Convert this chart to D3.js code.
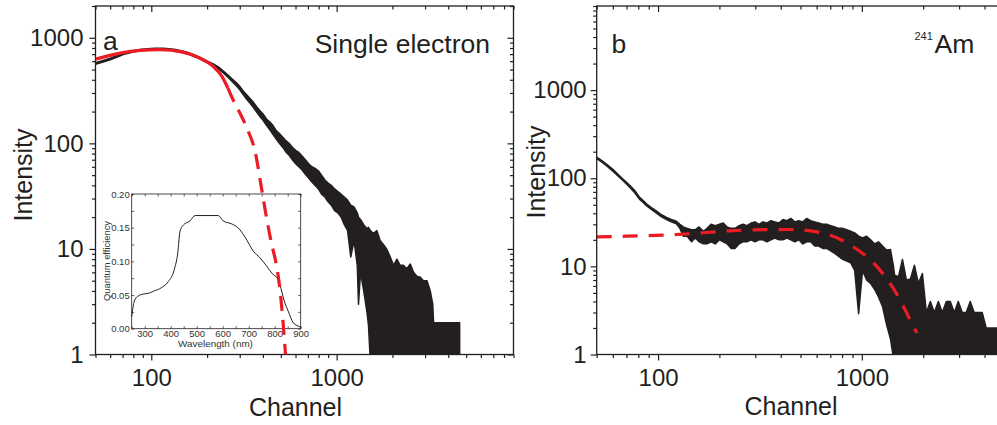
<!DOCTYPE html>
<html><head><meta charset="utf-8">
<script src="https://cdn.jsdelivr.net/npm/d3@7"></script>
<style>
body{margin:0;background:#fff;}
svg{display:block;font-family:"Liberation Sans",Arial,Helvetica,sans-serif;}
</style></head><body>
<svg id="chart" width="997" height="425"></svg>
<script>
// ---------- Panel a: single electron spectrum (channel, lower / upper edge of the noisy trace) ----------
const singleChan = [50,55,60,65,70,75,80,87,95,105,115,125,135,145,161,180,199,215,230,244,
  260,277,290,301,314,327,341,355,370,385, 401,418,435,453,472,491,511,532,554,577,
  601,625,651,678,706,735,765,797,829,864, 899,936,975,1015,1057,1100,1145,1192,1241,1292,
  1312,1345,1400,1458,1485,1517,1580,1649,1717,1787, 1861,1946,2030,2115,2200,2290,2390,2497,2600,2710,
  2826,2940,3073,3200,3300,3335,3500,3700,3900,4100, 4350,4610];
const singleLo = [562,590,620,655,690,712,732,755,765,772,772,765,752,730,695,640,582,548,508,466,
  420,375,345,320,288,262,240,220,198,180, 165,148,135,122,110,100,92,83,77,70,
  64,60,56,51,47,43,40,37,33,31, 28,26,23,22,20,17,15,8.4,12,7,
  3,6,4,2.5,1.9,0,0,0,0,0, 0,0,0,0,0,0,0,0,0,0, 0,0,0,0,0,0,0,0,0,0, 0,0];
const singleHi = [580,610,640,675,710,732,752,776,788,795,795,788,774,752,716,662,604,568,530,486,
  442,398,370,345,312,288,266,246,222,205, 190,170,160,148,132,124,115,106,100,92,
  86,82,76,70,64,60,58,55,50,45, 42,40,37,35,33,31,29,26,25,22,
  20,19,17,15.5,16,15,14,14.9,12,11, 10,8.4,7,8,7,7,6.5,7.2,6,5.5,
  5.4,5,5,4,3,2,2,2,2,2, 2,2];
// red fit for panel a (solid up to fitSolidEndA, dashed after)
const fitChanA = [50,68,87,111,148,183,215,240,259,277,301,332,363,391,419,444,477,498,514,530];
const fitValA  = [628,715,759,773,732,642,539,433,334,256,193,133,84,40,19.5,11.5,6.5,3.7,2.0,1.0];
const fitSolidEndA = 259;

// ---------- Inset: quantum efficiency ----------
const qeWave = [250,260,273,295,314,333,365,391,414,427,436,449,474,494,583,602,635,660,686,718,744,769,795,808,820,837,852,872,885,900];
const qeVal  = [0.018,0.041,0.048,0.0515,0.0525,0.0555,0.061,0.070,0.088,0.112,0.145,0.154,0.160,0.168,0.168,0.160,0.1555,0.1495,0.136,0.115,0.105,0.093,0.080,0.076,0.065,0.041,0.026,0.0085,0.005,0.002];
const qeXTicks = [300,400,500,600,700,800,900];
const qeYTicks = [0,0.05,0.10,0.15,0.20];

// ---------- Panel b: 241Am spectrum ----------
const amChan = [50,53,56,60,63,66,70,73,77,81,85,88,92,98,104,110,116,123,128,133,
  139,146,152,159,167,174,182,191,200,209, 218,228,239,250,261,273,286,299,313,327,
  342,358,374,392,410,429,448,469,490,513, 537,561,587,614,643,672,703,736,770,805,
  842,881,922,964,1008,1055,1103,1154,1207,1263, 1321,1382,1430,1446,1512,1582,1655,1731,1811,1894,
  1982,2073,2168,2268,2373,2482,2597,2716,2841,2972, 3109,3253,3403,3559,3723,3895,4075,4262,4459,4664,
  4879,5000];
const amLo = [167,152,138,120,108,98,86,78,68,58,52.5,48.5,45,40.5,36.5,34,32,30.5,27,22,
  22,19,21,19,18,18,19,18,20,19, 18,16,16,18,19,19,20,19,20,20,
  19,20,21,20,20,21,20,19,20,18, 19,19,17,17,16,16,15,14,13,12,
  11.5,11,9,2.9,9,7,6.4,5.5,4.5,3.5, 2.2,1.5,0,0,0,0,0,0,0,0,
  0,0,0,0,0,0,0,0,0,0, 0,0,0,0,0,0,0,0,0,0, 0,0];
const amHi = [174,158,144,126,113,102,90,82,72,61,55,51,47,42.5,38.5,36,34,32.5,30,28,
  27,26,26,28,25,27,30,29,30,31, 28,27,27,29,30,29,31,32,30,32,
  31,33,32,31,34,33,35,32,33,32, 35,33,32,31,30,30,29,28,27,27,
  26,25,24,22,21,22,20,18,19,17, 15.3,15.5,10,8,7.6,12,7,7.2,10.3,6.4,
  8.3,3,4,3,4,3,4,4,3,4, 3,3,4,3,3,3,2,2,2,2, 2,2];
const fitChanB = [50,70,106,150,224,300,443,500,602,700,784,910,1060,1227,1375,1543,1729,1860];
const fitValB  = [21.6,22,22.6,23.6,25.3,26,26.2,26,24.6,22.5,20.2,16.6,12.8,9.06,6.4,4.13,2.45,1.76];

// tick labels
const xMajorTicks = [100, 1000];
const yMajorA = [1, 10, 100, 1000];
const yMajorB = [1, 10, 100, 1000];

// ---------- drawing ----------
const INK = "#231f20", RED = "#ed1c24";
const FONT = '"Liberation Sans", Arial, Helvetica, sans-serif';
const svg = d3.select("#chart");

function minors(lo, hi) {
  const out = [];
  for (let k = Math.floor(Math.log10(lo)); k <= Math.ceil(Math.log10(hi)); k++) {
    for (let d = 2; d <= 9; d++) { const v = d * Math.pow(10, k); if (v >= lo - 1e-9 && v <= hi + 1e-9) out.push(v); }
  }
  return out;
}
function styleAxis(g, fs) {
  g.select(".domain").remove();
  g.selectAll("line").attr("stroke", INK).attr("stroke-width", 1.2);
  g.selectAll("text").attr("fill", INK).attr("font-size", fs).attr("font-family", FONT);
  g.attr("font-family", FONT);
}

function panel(id, x, y, yMajor, chan, lo, hi, fitC, fitV, solidEnd, leftPad) {
  const [x0, x1] = x.range(), [y0, y1] = y.range();
  const g = svg.append("g");
  svg.append("clipPath").attr("id", "clip" + id).append("rect")
    .attr("x", x0).attr("y", y1).attr("width", x1 - x0).attr("height", y0 - y1);
  const yv = v => v > 0 ? y(v) : y0 + 4;
  const rows = chan.map((c, i) => [c, lo[i], hi[i]]);
  const plot = g.append("g").attr("clip-path", `url(#clip${id})`);
  plot.append("path").datum(rows)
    .attr("d", d3.area().x(d => x(d[0])).y0(d => yv(d[1])).y1(d => yv(d[2])))
    .attr("fill", INK).attr("stroke", INK).attr("stroke-width", 1.5).attr("stroke-linejoin", "round");
  const fit = fitC.map((c, i) => [c, fitV[i]]);
  const line = d3.line().x(d => x(d[0])).y(d => y(d[1])).curve(d3.curveMonotoneX);
  return { g, plot, fit, line, x, y, x0, x1, y0, y1, yMajor, leftPad, solidEnd };
}

function axes(p) {
  const { g, x, y, x0, x1, y0, y1, yMajor, leftPad } = p;
  const xd = x.domain(), yd = y.domain();
  const xMin = minors(xd[0], xd[1]), yMin = minors(yd[0], yd[1]);
  g.append("g").attr("transform", `translate(0,${y0})`)
    .call(d3.axisBottom(x).tickValues(xMajorTicks).tickSize(6).tickSizeOuter(0).tickPadding(8).tickFormat(d3.format("d")))
    .call(s => styleAxis(s, 24));
  g.append("g").attr("transform", `translate(0,${y0})`)
    .call(d3.axisBottom(x).tickValues(xMin).tickSize(3.5).tickSizeOuter(0).tickFormat(""))
    .call(s => styleAxis(s, 24));
  g.append("g").attr("transform", `translate(0,${y1})`)
    .call(d3.axisTop(x).tickValues(xMajorTicks).tickSize(-6).tickSizeOuter(0).tickFormat(""))
    .call(s => styleAxis(s, 24));
  g.append("g").attr("transform", `translate(0,${y1})`)
    .call(d3.axisTop(x).tickValues(xMin).tickSize(-3.5).tickSizeOuter(0).tickFormat(""))
    .call(s => styleAxis(s, 24));
  g.append("g").attr("transform", `translate(${x0},0)`)
    .call(d3.axisLeft(y).tickValues(yMajor).tickSize(6).tickSizeOuter(0).tickPadding(leftPad).tickFormat(d3.format("d")))
    .call(s => styleAxis(s, 24));
  g.append("g").attr("transform", `translate(${x0},0)`)
    .call(d3.axisLeft(y).tickValues(yMin).tickSize(3.5).tickSizeOuter(0).tickFormat(""))
    .call(s => styleAxis(s, 24));
  g.append("g").attr("transform", `translate(${x1},0)`)
    .call(d3.axisRight(y).tickValues(yMajor).tickSize(-6).tickSizeOuter(0).tickFormat(""))
    .call(s => styleAxis(s, 24));
  g.append("g").attr("transform", `translate(${x1},0)`)
    .call(d3.axisRight(y).tickValues(yMin).tickSize(-3.5).tickSizeOuter(0).tickFormat(""))
    .call(s => styleAxis(s, 24));
  g.append("rect").attr("x", x0).attr("y", y1).attr("width", x1 - x0).attr("height", y0 - y1)
    .attr("fill", "none").attr("stroke", INK).attr("stroke-width", 1.3);
}

// Panel a
const xa = d3.scaleLog().domain([50, 9000]).range([95.5, 513.5]);
const ya = d3.scaleLog().domain([1, 2000]).range([354.5, 6]);
const pa = panel("a", xa, ya, yMajorA, singleChan, singleLo, singleHi, fitChanA, fitValA, fitSolidEndA, 6);

// inset
const xi = d3.scaleLinear().domain([250, 900]).range([131.7, 300.7]);
const yi = d3.scaleLinear().domain([0, 0.2]).range([328.7, 194]);
const ins = svg.append("g");
ins.append("rect").attr("x", 131.7).attr("y", 194).attr("width", 169).attr("height", 134.7)
  .attr("fill", "#fff").attr("stroke", INK).attr("stroke-width", 0.8);
ins.append("path").datum(qeWave.map((w, i) => [w, qeVal[i]]))
  .attr("d", d3.line().x(d => xi(d[0])).y(d => yi(d[1])).curve(d3.curveMonotoneX))
  .attr("fill", "none").attr("stroke", INK).attr("stroke-width", 1);
const xiMinor = d3.range(250, 901, 50), yiMinor = d3.range(0, 0.2001, 0.025);
function styleInset(s) {
  s.select(".domain").remove();
  s.selectAll("line").attr("stroke", INK).attr("stroke-width", 0.7);
  s.selectAll("text").attr("fill", "#333").attr("font-size", 9.5).attr("font-family", FONT);
}
ins.append("g").attr("transform", "translate(0,328.7)")
  .call(d3.axisBottom(xi).tickValues(qeXTicks).tickSize(0).tickPadding(2).tickFormat(d3.format("d"))).call(styleInset);
ins.append("g").attr("transform", "translate(0,328.7)")
  .call(d3.axisBottom(xi).tickValues(xiMinor).tickSize(-2.5).tickSizeOuter(0).tickFormat("")).call(styleInset);
ins.append("g").attr("transform", "translate(0,194)")
  .call(d3.axisTop(xi).tickValues(xiMinor).tickSize(-2.5).tickSizeOuter(0).tickFormat("")).call(styleInset);
ins.append("g").attr("transform", "translate(131.7,0)")
  .call(d3.axisLeft(yi).tickValues(qeYTicks).tickSize(0).tickPadding(2).tickFormat(d3.format(".2f"))).call(styleInset);
ins.append("g").attr("transform", "translate(131.7,0)")
  .call(d3.axisLeft(yi).tickValues(yiMinor).tickSize(-2.5).tickSizeOuter(0).tickFormat("")).call(styleInset);
ins.append("g").attr("transform", "translate(300.7,0)")
  .call(d3.axisRight(yi).tickValues(yiMinor).tickSize(-2.5).tickSizeOuter(0).tickFormat("")).call(styleInset);
ins.append("text").attr("x", 215.5).attr("y", 346.5).attr("text-anchor", "middle")
  .attr("font-size", 9.9).attr("fill", "#333").text("Wavelength (nm)");
ins.append("text").attr("transform", "translate(109.5,261) rotate(-90)").attr("text-anchor", "middle")
  .attr("font-size", 9.4).attr("fill", "#333").text("Quantum efficiency");

// red fit a (on top of inset)
const fitA = pa.fit;
const redA = svg.append("g").attr("clip-path", "url(#clipa)");
redA.append("path").datum(fitA.filter(d => d[0] <= fitSolidEndA)).attr("d", pa.line)
  .attr("fill", "none").attr("stroke", RED).attr("stroke-width", 3.2);
redA.append("path").datum(fitA.filter(d => d[0] >= fitSolidEndA)).attr("d", pa.line)
  .attr("fill", "none").attr("stroke", RED).attr("stroke-width", 3.2).attr("stroke-dasharray", "15,9");
axes(pa);

// Panel b
const xb = d3.scaleLog().domain([50, 5000]).range([596.7, 1004.3]);
const yb = d3.scaleLog().domain([1, 9000]).range([354.5, 6]);
const pb = panel("b", xb, yb, yMajorB, amChan, amLo, amHi, fitChanB, fitValB, null, 4);
pb.plot.append("path").datum(pb.fit).attr("d", pb.line)
  .attr("fill", "none").attr("stroke", RED).attr("stroke-width", 3.2).attr("stroke-dasharray", "15,11");
axes(pb);

// titles & annotations
function txt(x, y, s, fs, anchor, rot) {
  const t = svg.append("text").attr("font-size", fs).attr("fill", INK).attr("text-anchor", anchor || "start").text(s);
  if (rot) t.attr("transform", `translate(${x},${y}) rotate(-90)`); else t.attr("x", x).attr("y", y);
  return t;
}
txt(295.5, 416, "Channel", 25, "middle");
txt(791, 415, "Channel", 25, "middle");
txt(32, 175, "Intensity", 25, "middle", true);
txt(545, 172, "Intensity", 25, "middle", true);
txt(103, 50, "a", 26.5);
txt(490, 53, "Single electron", 26.5, "end");
txt(611.5, 52.7, "b", 26.5);
txt(914.5, 39.5, "241", 11);
txt(934.5, 52.7, "Am", 26.5);
</script>
</body></html>
